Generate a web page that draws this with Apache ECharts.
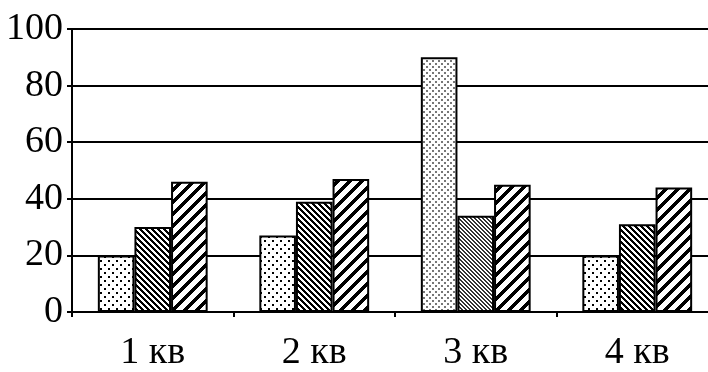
<!DOCTYPE html>
<html>
<head>
<meta charset="utf-8">
<script src="https://cdn.jsdelivr.net/npm/echarts@6/dist/echarts.min.js"></script>
<style>html,body{margin:0;padding:0;background:#fff;overflow:hidden}#c{width:720px;height:372px}</style>
</head>
<body>
<div id="c"></div>
<script>
const categories = ['1 кв', '2 кв', '3 кв', '4 кв'];
const seriesDots = [20, 27, 90, 20];
const seriesBack = [30, 39, 34, 31];
const seriesFwd = [46, 47, 45, 44];

function makePattern(w, h, fn, color) {
  const c = document.createElement('canvas');
  c.width = w; c.height = h;
  const ctx = c.getContext('2d');
  ctx.fillStyle = '#fff';
  ctx.fillRect(0, 0, w, h);
  ctx.fillStyle = color || '#000';
  for (let y = 0; y < h; y++) for (let x = 0; x < w; x++) if (fn(x, y)) ctx.fillRect(x, y, 1, 1);
  return { image: c, repeat: 'repeat' };
}
const dotPat = makePattern(8, 8, (x, y) => ((x < 2 && y < 2) || (x >= 4 && x < 6 && y >= 4 && y < 6)));
const dotPatGray = makePattern(6, 6, (x, y) => ((x < 2 && y < 2) || (x >= 3 && x < 5 && y >= 3 && y < 5)), '#777');
const backPat = makePattern(6, 6, (x, y) => (((x - y) % 6 + 6) % 6) < 3);
const backPatFine = makePattern(4, 4, (x, y) => (((x - y) % 4 + 4) % 4) < 2, '#333');
const fwdPat = makePattern(12, 12, (x, y) => ((x + y) % 12) < 5);

const border = { borderColor: '#000', borderWidth: 2 };
const chart = echarts.init(document.getElementById('c'), null, { renderer: 'canvas' });
const font = 'Liberation Serif';
chart.setOption({
  animation: false,
  backgroundColor: '#fff',
  grid: { left: 72, right: 2, top: 29, bottom: 56 },
  xAxis: {
    type: 'category',
    data: categories,
    axisLine: { lineStyle: { color: '#000', width: 2 } },
    axisTick: { show: true, length: 5, lineStyle: { color: '#000', width: 2 } },
    axisLabel: { color: '#000', fontFamily: font, fontSize: 38, margin: 22 }
  },
  yAxis: {
    type: 'value', min: 0, max: 100, interval: 20,
    axisLine: { show: true, lineStyle: { color: '#000', width: 2 } },
    axisTick: { show: true, length: 5, lineStyle: { color: '#000', width: 2 } },
    axisLabel: { color: '#000', fontFamily: font, fontSize: 38, margin: 9 },
    splitLine: { lineStyle: { color: '#000', width: 2 } }
  },
  series: [
    { type: 'bar', barGap: '0%', barCategoryGap: '32%',
      data: seriesDots.map((v, i) => i === 2 ? { value: v, itemStyle: { color: dotPatGray } } : v),
      itemStyle: Object.assign({ color: dotPat }, border) },
    { type: 'bar', barGap: '0%', barCategoryGap: '32%',
      data: seriesBack.map((v, i) => i === 2 ? { value: v, itemStyle: { color: backPatFine } } : v),
      itemStyle: Object.assign({ color: backPat }, border) },
    { type: 'bar', barGap: '0%', barCategoryGap: '32%',
      data: seriesFwd,
      itemStyle: Object.assign({ color: fwdPat }, border) }
  ]
});
</script>
</body>
</html>
